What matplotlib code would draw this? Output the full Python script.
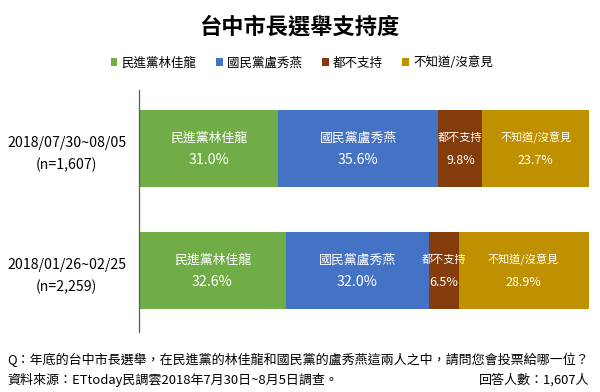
import numpy as np
import matplotlib
matplotlib.use('Agg')
import matplotlib.pyplot as plt
import matplotlib.patches as mpatches

plt.rcParams['font.family'] = ['Noto Sans CJK TC', 'DejaVu Sans']

# ================== Data ==================
TITLE = '台中市長選舉支持度'
periods = ['2018/07/30~08/05', '2018/01/26~02/25']
samples = ['(n=1,607)', '(n=2,259)']
categories = ['民進黨林佳龍', '國民黨盧秀燕', '都不支持', '不知道/沒意見']
dpp = [31.0, 32.6]
kmt = [35.6, 32.0]
neither = [9.8, 6.5]
unknown = [23.7, 28.9]

QUESTION = 'Q：年底的台中市長選舉，在民進黨的林佳龍和國民黨的盧秀燕這兩人之中，請問您會投票給哪一位？'
SOURCE = '資料來源：ETtoday民調雲2018年7月30日~8月5日調查。'
RESPONDENTS = '回答人數：1,607人'

COLORS = ['#70AD47', '#4472C4', '#843C0C', '#BF9000']
LABEL_SIZE = [9.3, 9.3, 8, 8]

# ================== Plot ==================
fig = plt.figure(figsize=(6, 3.92), dpi=100)
ax = fig.add_axes([139/600, 1 - 332/392, 450/600, 242/392])

ys = [1, 0]
series = [dpp, kmt, neither, unknown]
left = np.zeros(len(ys))
for k, vals in enumerate(series):
    ax.barh(ys, vals, left=left, height=0.63, color=COLORS[k], edgecolor='none')
    for y, l, v in zip(ys, left, vals):
        cx = l + v / 2
        ax.annotate(categories[k], (cx, y), xytext=(0, 7.5), textcoords='offset points',
                    ha='center', va='center', color='white', fontsize=LABEL_SIZE[k])
        ax.annotate('%.1f%%' % v, (cx, y), xytext=(0, -8.5), textcoords='offset points',
                    ha='center', va='center', color='white', fontsize=LABEL_SIZE[k] + 1)
    left += np.array(vals)

ax.set_xlim(0, 100.1)
ax.set_ylim(-0.504, 1.48)
ax.set_xticks([])
ax.set_yticks(ys)
ax.set_yticklabels([p + '\n' + n for p, n in zip(periods, samples)],
                   fontsize=10.2, ha='center', linespacing=1.65)
ax.tick_params(axis='y', length=0, pad=52)
for s in ['top', 'right', 'bottom']:
    ax.spines[s].set_visible(False)
ax.spines['left'].set_color('#595959')
ax.spines['left'].set_linewidth(0.9)

fig.text(0.5, 1 - 27/392, TITLE, ha='center', va='center', fontsize=16, fontweight='bold')

patches = [mpatches.Patch(facecolor=c, label=l) for c, l in zip(COLORS, categories)]
fig.legend(handles=patches, loc='center', bbox_to_anchor=(0.503, 1 - 63/392), ncol=4,
           frameon=False, fontsize=9, handlelength=0.55, handleheight=0.55,
           handletextpad=0.3, columnspacing=1.6)

fig.text(7/600, 1 - 360/392, QUESTION, ha='left', va='center', fontsize=9.4)
fig.text(7/600, 1 - 380/392, SOURCE, ha='left', va='center', fontsize=9.4)
fig.text(589/600, 1 - 380/392, RESPONDENTS, ha='right', va='center', fontsize=9.4)

plt.savefig('out.png', dpi=100)
